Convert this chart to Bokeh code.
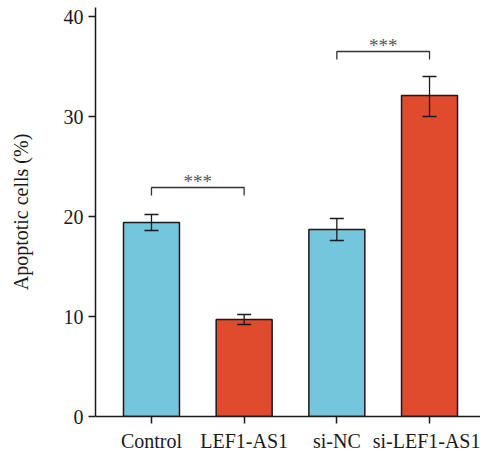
from bokeh.plotting import figure
from bokeh.models import ColumnDataSource, Whisker, FixedTicker, Range1d, TeeHead
from bokeh.core.properties import value
from bokeh.embed import file_html
from bokeh.resources import INLINE

categories = ["Control", "LEF1-AS1", "si-NC", "si-LEF1-AS1"]
means = [19.4, 9.7, 18.7, 32.1]
err_low = [18.6, 9.2, 17.6, 30.0]
err_high = [20.2, 10.2, 19.8, 34.0]
colors = ["#73C6DB", "#E04A2D", "#73C6DB", "#E04A2D"]
y_ticks = [0, 10, 20, 30, 40]
brackets_from = [0, 2]
brackets_to = [1, 3]
brackets_y = [22.9, 36.5]
brackets_text = ["***", "***"]

xs = [i + 1 for i in range(len(categories))]
FONT = "Liberation Serif"
FS = "20px"

p = figure(width=480, height=454, output_backend="svg", toolbar_location=None,
           x_range=Range1d(0.396, 4.55), y_range=Range1d(0, 40.9),
           min_border_left=95, min_border_right=0, min_border_top=7, min_border_bottom=37)
p.outline_line_color = None
p.grid.visible = False
p.background_fill_color = "white"

src = ColumnDataSource(dict(x=xs, top=means, lo=err_low, hi=err_high, color=colors))
p.vbar(x="x", top="top", width=0.604, fill_color="color", line_color="#1a1a1a",
       line_width=1.5, source=src)
p.add_layout(Whisker(base="x", lower="lo", upper="hi", source=src, line_color="#1a1a1a",
                     line_width=1.3, level="annotation",
                     upper_head=TeeHead(size=14, line_color="#1a1a1a", line_width=1.3),
                     lower_head=TeeHead(size=14, line_color="#1a1a1a", line_width=1.3)))

drop = 0.8
for a, b, y, t in zip(brackets_from, brackets_to, brackets_y, brackets_text):
    xa, xb = xs[a], xs[b]
    p.line([xa, xa, xb, xb], [y - drop, y, y, y - drop], line_color="#333333", line_width=1.3)
    p.text(x=[(xa + xb) / 2], y=[y + 0.6], text=[t], text_align="center",
           text_baseline="middle", text_color="#555555", text_font=value(FONT),
           text_font_size="19px")

p.xaxis.ticker = FixedTicker(ticks=xs)
p.xaxis.major_label_overrides = {x: c for x, c in zip(xs, categories)}
p.yaxis.ticker = FixedTicker(ticks=y_ticks)
p.yaxis.axis_label = "Apoptotic cells (%)"

for ax in (p.xaxis, p.yaxis):
    ax.axis_line_color = "#1a1a1a"
    ax.axis_line_width = 1.5
    ax.major_tick_line_color = "#1a1a1a"
    ax.major_tick_line_width = 1.5
    ax.major_tick_out = 7
    ax.major_tick_in = 0
    ax.minor_tick_line_color = None
    ax.major_label_text_font = FONT
    ax.major_label_text_font_size = FS
    ax.major_label_text_color = "#1a1a1a"
p.yaxis.axis_label_text_font = FONT
p.yaxis.axis_label_text_font_size = FS
p.yaxis.axis_label_text_font_style = "normal"
p.yaxis.axis_label_text_color = "#1a1a1a"
p.yaxis.axis_label_standoff = 29
p.yaxis.major_label_standoff = 5
p.xaxis.major_label_standoff = 6

open("out.html", "w").write(file_html(p, INLINE))
